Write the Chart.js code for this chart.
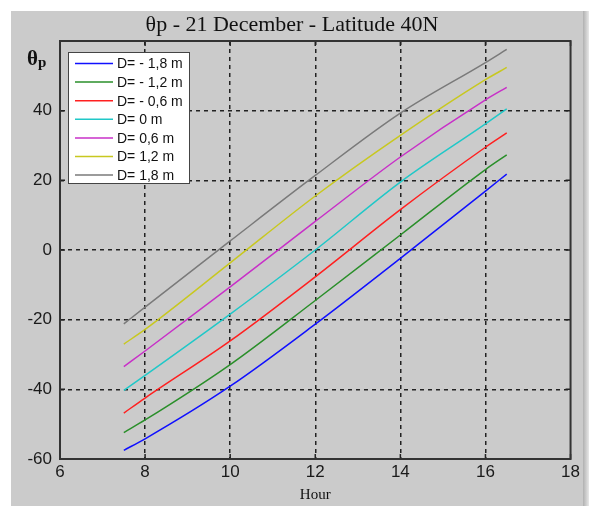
<!DOCTYPE html>
<html>
<head>
<meta charset="utf-8">
<script src="https://cdn.jsdelivr.net/npm/chart.js@4.4.0/dist/chart.umd.min.js"></script>
<style>
  html, body { margin: 0; padding: 0; background: #fff; }
  #panel { position: absolute; left: 11px; top: 11px; width: 572px; height: 495px; background: #cbcbcb; }
  #shade { position: absolute; left: 583px; top: 11px; width: 6px; height: 495px; background: linear-gradient(to right, #b0b0b0, #e8e8e8); }
  #theChart { position: absolute; left: 0; top: 0; }
</style>
</head>
<body>
<div id="panel"><canvas id="theChart" width="572" height="495"></canvas></div>
<div id="shade"></div>
<script>
// hours where the curves were read
const hours = [7.5, 8, 10, 12, 14, 16, 16.5];

// theta_p (deg) for each displacement D
const dMinus18 = [-57.5, -54.2, -39.1, -21.3, -2.4, 16.9, 21.8];
const dMinus12 = [-52.4, -48.8, -32.9, -14.5, 4.3, 23.1, 27.3];
const dMinus06 = [-46.8, -42.5, -26.1, -7.7, 11.6, 29.5, 33.6];
const dZero    = [-40.3, -36.0, -18.4, 0.0, 19.5, 36.2, 40.5];
const dPlus06  = [-33.5, -29.0, -10.6, 8.2, 26.7, 43.1, 46.7];
const dPlus12  = [-27.0, -22.8, -3.7, 15.5, 32.9, 48.9, 52.4];
const dPlus18  = [-21.2, -16.4, 2.6, 21.4, 39.3, 53.8, 57.6];

const seriesLabels = ['D= - 1,8 m', 'D= - 1,2 m', 'D= - 0,6 m', 'D= 0 m', 'D= 0,6 m', 'D= 1,2 m', 'D= 1,8 m'];
const seriesValues = [dMinus18, dMinus12, dMinus06, dZero, dPlus06, dPlus12, dPlus18];
const seriesColors = ['#1010ff', '#2a8f2a', '#ff2020', '#20c8c8', '#c830c8', '#c8c820', '#7a7a7a'];

const xTicks = [6, 8, 10, 12, 14, 16, 18];
const yTicks = [-60, -40, -20, 0, 20, 40, 60];

const datasets = seriesLabels.map((lab, i) => ({
  label: lab,
  data: hours.map((h, j) => ({ x: h, y: seriesValues[i][j] })),
  borderColor: seriesColors[i],
  borderWidth: 1.5,
  pointRadius: 0,
  cubicInterpolationMode: 'monotone',
  fill: false
}));

// frame, inner ticks, y label and legend drawn over the plot
const matlabLook = {
  id: 'matlabLook',
  afterDraw(chart) {
    const { ctx, chartArea: a, scales: { x, y } } = chart;
    ctx.save();
    ctx.strokeStyle = '#222';
    ctx.lineWidth = 1.5;
    ctx.beginPath();
    xTicks.forEach(v => {
      const px = x.getPixelForValue(v);
      ctx.moveTo(px, a.bottom); ctx.lineTo(px, a.bottom - 5);
      ctx.moveTo(px, a.top); ctx.lineTo(px, a.top + 5);
    });
    yTicks.forEach(v => {
      const py = y.getPixelForValue(v);
      ctx.moveTo(a.left, py); ctx.lineTo(a.left + 5, py);
      ctx.moveTo(a.right, py); ctx.lineTo(a.right - 5, py);
    });
    ctx.stroke();

    ctx.lineWidth = 2;
    ctx.strokeStyle = '#333';
    ctx.strokeRect(a.left, a.top, a.right - a.left, a.bottom - a.top);

    // y axis label
    ctx.fillStyle = '#111';
    ctx.textBaseline = 'alphabetic';
    ctx.textAlign = 'left';
    ctx.font = 'bold 21px "Liberation Serif"';
    ctx.fillText('θ', 16, 54);
    const w = ctx.measureText('θ').width;
    ctx.font = 'bold 15px "Liberation Serif"';
    ctx.fillText('p', 16 + w, 56);

    // legend
    const lx = 57, ly = 41, lw = 121, lh = 131;
    ctx.fillStyle = '#fff';
    ctx.fillRect(lx, ly, lw, lh);
    ctx.lineWidth = 1;
    ctx.strokeStyle = '#444';
    ctx.strokeRect(lx + 0.5, ly + 0.5, lw, lh);
    ctx.font = '14px "Liberation Sans"';
    ctx.textBaseline = 'middle';
    chart.data.datasets.forEach((ds, i) => {
      const ry = ly + 11.5 + i * 18.6;
      ctx.strokeStyle = ds.borderColor;
      ctx.lineWidth = 1.5;
      ctx.beginPath();
      ctx.moveTo(lx + 7, ry);
      ctx.lineTo(lx + 45, ry);
      ctx.stroke();
      ctx.fillStyle = '#111';
      ctx.fillText(ds.label, lx + 49, ry + 1);
    });
    ctx.restore();
  }
};

const edgeOff = (edges) => (c) => edges.includes(c.tick.value) ? 'rgba(0,0,0,0)' : '#222';

new Chart(document.getElementById('theChart').getContext('2d'), {
  type: 'line',
  data: { datasets },
  options: {
    responsive: false,
    animation: false,
    layout: { padding: { top: 0, right: 10, left: 0, bottom: 0 } },
    plugins: {
      legend: { display: false },
      tooltip: { enabled: false },
      title: {
        display: true,
        text: 'θp - 21 December - Latitude 40N',
        color: '#111',
        font: { family: '"Liberation Serif"', size: 22, weight: 'normal' },
        padding: { top: 1.5, bottom: 2.1 }
      }
    },
    scales: {
      x: {
        type: 'linear',
        min: 6, max: 18,
        afterBuildTicks: (s) => { s.ticks = xTicks.map(v => ({ value: v })); },
        afterFit: (s) => { s.height = 47; },
        grid: { color: edgeOff([6, 18]), lineWidth: 1.5, drawTicks: false },
        border: { display: false, dash: [4, 4] },
        ticks: { color: '#1a1a1a', padding: 3, font: { family: '"Liberation Sans"', size: 17 } },
        title: {
          display: true, text: 'Hour', color: '#111',
          font: { family: '"Liberation Serif"', size: 15 },
          padding: { top: 0, bottom: 2 }
        }
      },
      y: {
        min: -60, max: 60,
        afterBuildTicks: (s) => { s.ticks = yTicks.map(v => ({ value: v })); },
        afterFit: (s) => { s.width = 49; },
        grid: { color: edgeOff([-60, 60]), lineWidth: 1.5, drawTicks: false },
        border: { display: false, dash: [4, 4] },
        ticks: {
          color: '#1a1a1a', padding: 8,
          font: { family: '"Liberation Sans"', size: 17 },
          callback: (v) => v === 60 ? '' : v
        }
      }
    }
  },
  plugins: [matlabLook]
});
</script>
</body>
</html>
